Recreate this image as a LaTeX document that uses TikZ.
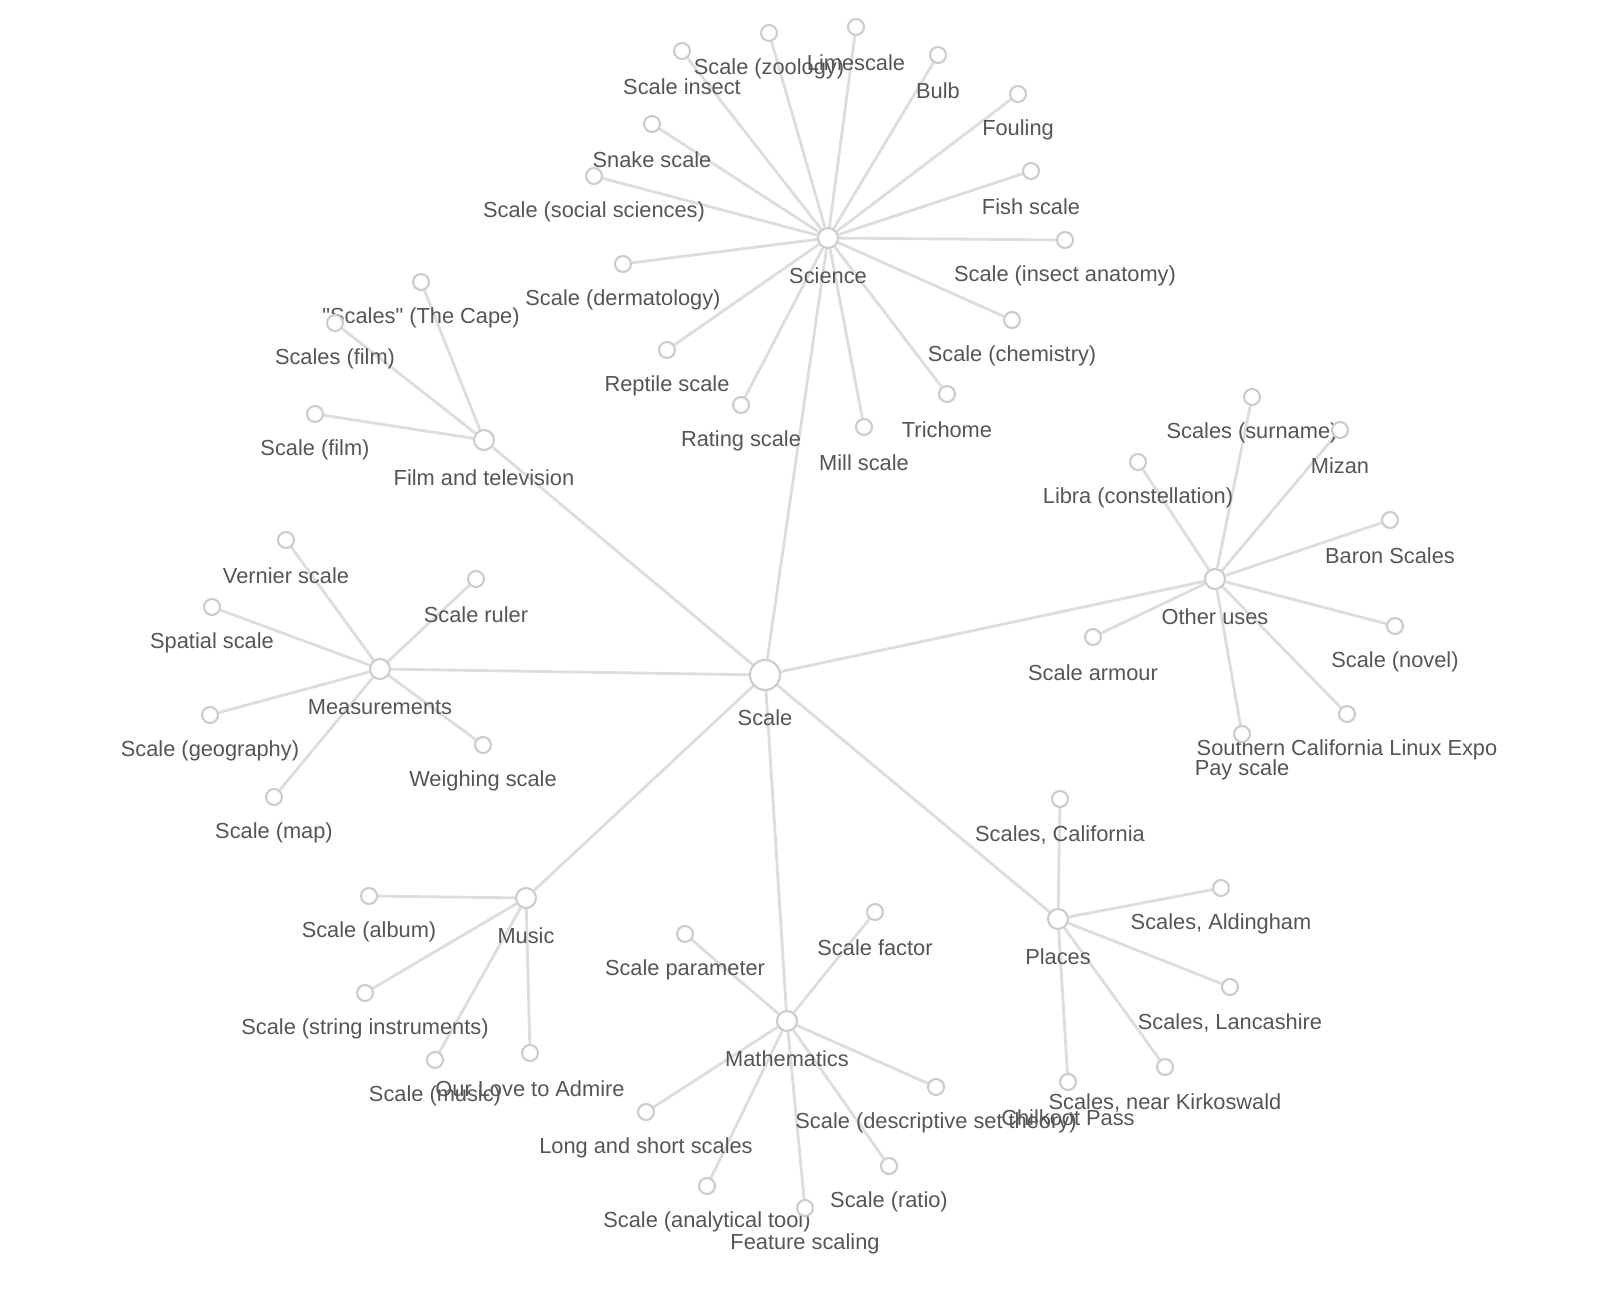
\documentclass[tikz,border=0pt]{standalone}
\usepackage{fontspec}
\setmainfont{Liberation Sans}
\newfontfamily\plainsans{Liberation Sans}
\usetikzlibrary{backgrounds}
\definecolor{edgegray}{HTML}{DDDDDD}
\definecolor{ringgray}{HTML}{CCCCCC}
\definecolor{txtgray}{HTML}{555555}
\tikzset{
  leaf/.style={circle,draw=ringgray,fill=white,line width=0.6pt,minimum size=0.16cm,inner sep=0pt},
  group/.style={leaf,minimum size=0.2cm},
  hub/.style={leaf,minimum size=0.3cm},
  txt/.style={text=txtgray,font=\fontsize{6.2}{7}\selectfont,inner sep=0pt},
  link/.style={draw=edgegray,line width=0.8pt}
}
\begin{document}
\begin{tikzpicture}[x=0.01cm,y=0.01cm]
    \useasboundingbox (0,0) rectangle (1600,-1304);
    % centre and groups
    \node[hub] (scale) at (765,-675) {};
    \node[txt] at (765,-718) {Scale};
    \foreach \n/\x/\y/\t in {sci/828/238/Science, film/484/440/Film and television,
        meas/380/669/Measurements, music/526/898/Music, math/787/1021/Mathematics,
        places/1058/919/Places, other/1215/579/Other uses} {
      \node[group] (\n) at (\x,-\y) {};
      \node[txt] at (\x,-\y-38) {\t};
    }
    % leaves
    \foreach \p/\n/\x/\y/\t in {
        sci/lime/856/27/Limescale, sci/zoo/769/33/Scale (zoology), sci/insect/682/51/Scale insect,
        sci/bulb/938/55/Bulb, sci/foul/1018/94/Fouling, sci/snake/652/124/Snake scale,
        sci/fish/1031/171/Fish scale, sci/social/594/176/Scale (social sciences),
        sci/anat/1065/240/Scale (insect anatomy), sci/derm/623/264/Scale (dermatology),
        sci/chem/1012/320/Scale (chemistry), sci/rept/667/350/Reptile scale,
        sci/trich/947/394/Trichome, sci/rating/741/405/Rating scale, sci/mill/864/427/Mill scale,
        film/cape/421/282/{\plainsans"Scales" (The Cape)}, film/films/335/323/Scales (film),
        film/filmx/315/414/Scale (film),
        meas/vern/286/540/Vernier scale, meas/ruler/476/579/Scale ruler,
        meas/spat/212/607/Spatial scale, meas/geo/210/715/Scale (geography),
        meas/weigh/483/745/Weighing scale, meas/map/274/797/Scale (map),
        music/album/369/896/Scale (album), music/string/365/993/Scale (string instruments),
        music/smus/435/1060/Scale (music), music/love/530/1053/Our Love to Admire,
        math/param/685/934/Scale parameter, math/factor/875/912/Scale factor,
        math/dset/936/1087/Scale (descriptive set theory), math/long/646/1112/Long and short scales,
        math/ratio/889/1166/Scale (ratio), math/anal/707/1186/Scale (analytical tool),
        math/feat/805/1208/Feature scaling,
        places/calif/1060/799/{Scales, California}, places/aldi/1221/888/{Scales, Aldingham},
        places/lanc/1230/987/{Scales, Lancashire}, places/kirk/1165/1067/{Scales, near Kirkoswald},
        places/chil/1068/1082/Chilkoot Pass,
        other/surn/1252/397/Scales (surname), other/libra/1138/462/Libra (constellation),
        other/mizan/1340/430/Mizan, other/baron/1390/520/Baron Scales,
        other/novel/1395/626/Scale (novel), other/armour/1093/637/Scale armour,
        other/expo/1347/714/Southern California Linux Expo, other/pay/1242/734/Pay scale} {
      \node[leaf] (\n) at (\x,-\y) {};
      \node[txt] at (\x,-\y-36) {\t};
      \begin{scope}[on background layer]
        \draw[link] (\p) -- (\n);
      \end{scope}
    }
    \begin{scope}[on background layer]
      \foreach \g in {sci,film,meas,music,math,places,other}
        \draw[link] (scale) -- (\g);
    \end{scope}
\end{tikzpicture}
\end{document}
